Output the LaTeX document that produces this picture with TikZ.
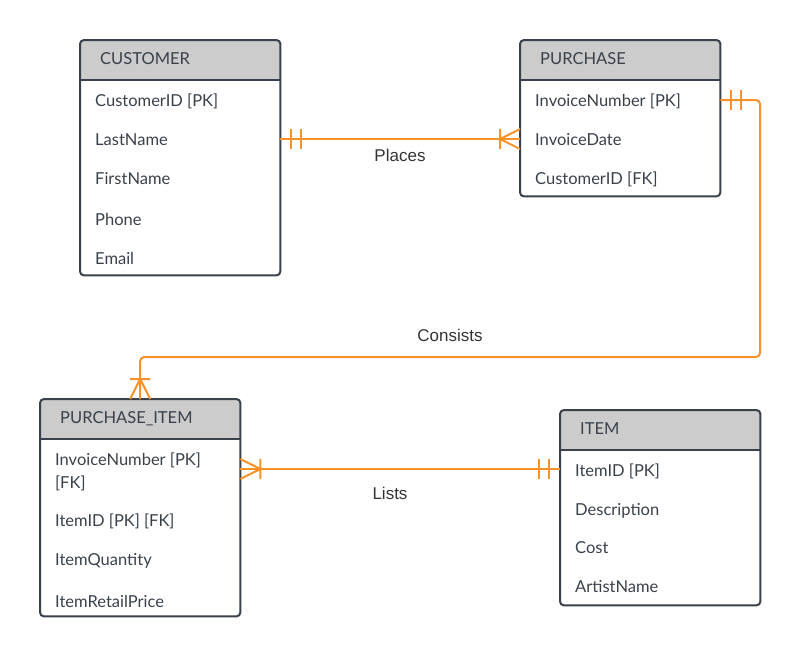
\documentclass[tikz,border=0pt]{standalone}
\usepackage{fontspec}
\setmainfont{Lato}
\newfontfamily\relfont{Liberation Sans}
\usetikzlibrary{positioning}
\definecolor{relorange}{RGB}{247,146,40}
\definecolor{boxline}{RGB}{58,65,74}
\definecolor{headgray}{RGB}{204,204,204}
\definecolor{fieldtext}{RGB}{58,65,74}
\begin{document}
\begin{tikzpicture}[x=1pt,y=-1pt,
  every node/.style={inner sep=0pt},
  entity/.style={anchor=north west,minimum width=200},
  border/.style={draw=boxline,line width=2,rounded corners=4},
  field/.style={anchor=base west,text=fieldtext,font=\fontsize{16.5}{19}\selectfont},
  rel/.style={draw=relorange,line width=2},
  rellabel/.style={anchor=base,text=black!80,font=\relfont\fontsize{17}{20}\selectfont},
  onlyone/.pic={\draw[rel] (11,-10) -- (11,10) (21,-10) -- (21,10);},
  crowfoot/.pic={\draw[rel] (20,0) -- (0,-10) (20,0) -- (0,10) (20,-10) -- (20,10);}]
\useasboundingbox (0,0) rectangle (801,657);
\node[entity,minimum height=235] (customer) at (80,40) {};
\node[entity,minimum height=156] (purchase) at (520,40) {};
\node[entity,minimum height=217] (pitem) at (40,399) {};
\node[entity,minimum height=195] (item) at (560,410) {};
\foreach \e in {customer,purchase,pitem,item} {
  \begin{scope}
  \clip[rounded corners=4] (\e.north west) rectangle (\e.south east);
  \fill[headgray] (\e.north west) rectangle ([yshift=-40pt]\e.north east);
  \end{scope}
  \draw[border] (\e.north west) rectangle (\e.south east);
  \draw[draw=boxline,line width=2] ([yshift=-40pt]\e.north west) -- ([yshift=-40pt]\e.north east);
}
\node[field] (custtitle) at (100,64) {CUSTOMER};
\node[field] (custid) at (95,106) {CustomerID [PK]};
\node[field] (custlast) at (95,145) {LastName};
\node[field] (custfirst) at (95,184) {FirstName};
\node[field] (custphone) at (95,225) {Phone};
\node[field] (custmail) at (95,264) {Email};
\node[field] (purtitle) at (540,64) {PURCHASE};
\node[field] (purnum) at (535,106) {InvoiceNumber [PK]};
\node[field] (purdate) at (535,145) {InvoiceDate};
\node[field] (purcust) at (535,184) {CustomerID [FK]};
\node[field] (pititle) at (60,423) {PURCHASE\_ITEM};
\node[field] (pinum) at (55,465) {InvoiceNumber [PK]};
\node[field] (pinumfk) at (55,488) {[FK]};
\node[field] (piid) at (55,526) {ItemID [PK] [FK]};
\node[field] (piqty) at (55,565) {ItemQuantity};
\node[field] (piprice) at (55,607) {ItemRetailPrice};
\node[field] (itemtitle) at (580,434) {ITEM};
\node[field] (itemid) at (575,476) {ItemID [PK]};
\node[field] (itemdesc) at (575,515) {Description};
\node[field] (itemcost) at (575,553) {Cost};
\node[field] (itemartist) at (575,592) {ArtistName};
\coordinate (bend) at (760,357);
\draw[rel] ([yshift=-99pt]customer.north east) -- ([yshift=-99pt]purchase.north west);
\pic at ([yshift=-99pt]customer.north east) {onlyone};
\pic[rotate=180] at ([yshift=-99pt]purchase.north west) {crowfoot};
\node[rellabel] (places) at (400,161) {Places};
\draw[rel,rounded corners=4] ([yshift=-60pt]purchase.north east) -| (bend) -| (pitem.north);
\pic at ([yshift=-60pt]purchase.north east) {onlyone};
\pic[rotate=90] at (pitem.north) {crowfoot};
\node[rellabel] (consists) at (450,341) {Consists};
\draw[rel] ([yshift=-70pt]pitem.north east) -- ([yshift=-59pt]item.north west);
\pic at ([yshift=-70pt]pitem.north east) {crowfoot};
\pic[rotate=180] at ([yshift=-59pt]item.north west) {onlyone};
\node[rellabel] (lists) at (390,499) {Lists};
\end{tikzpicture}
\end{document}
